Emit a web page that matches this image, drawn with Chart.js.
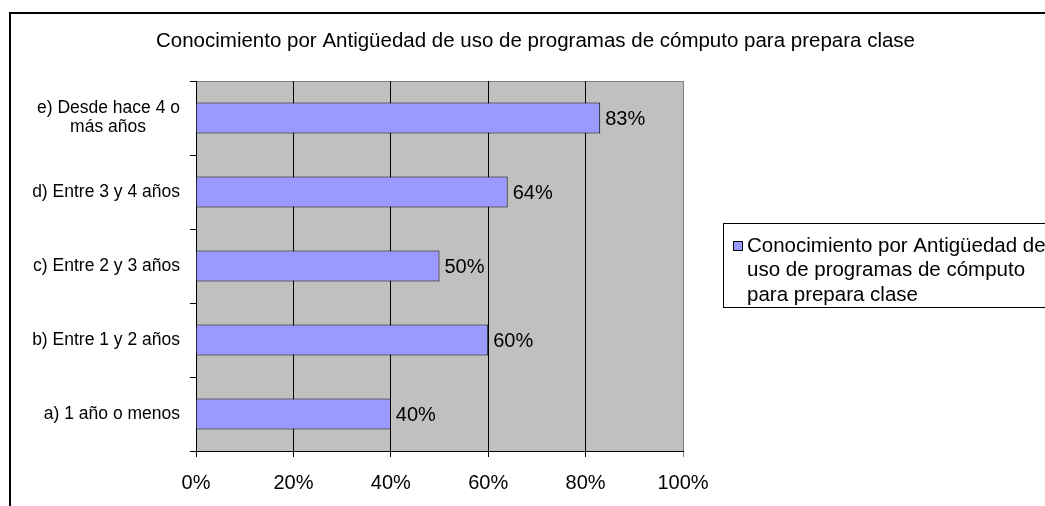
<!DOCTYPE html>
<html>
<head>
<meta charset="utf-8">
<script src="https://cdn.jsdelivr.net/npm/chart.js@4/dist/chart.umd.min.js"></script>
<style>
  html, body { margin: 0; padding: 0; background: #fff; }
  #wrap { width: 1045px; height: 506px; position: relative; }
</style>
</head>
<body>
<div id="wrap"><canvas id="knowledgeChart"></canvas></div>
<script>
const chartTitle = "Conocimiento por Antigüedad de uso de programas de cómputo para prepara clase";

let categoryLabels = [
    "a) 1 año o menos",
    "b) Entre 1 y 2 años",
    "c) Entre 2 y 3 años",
    "d) Entre 3 y 4 años",
    ["e) Desde hace 4 o", "más años"]
];

let percentValues = [40, 60, 50, 64, 83];

let legendLines = [
    "Conocimiento por Antigüedad de",
    "uso de programas de cómputo",
    "para prepara clase"
];

const barColor = "#9999FF";
const fontFamily = '"Liberation Sans", Arial, sans-serif';

Chart.defaults.font.family = fontFamily;
Chart.defaults.color = "#000";

// centre the lines of a multi-line label by padding the shorter ones with spaces
const measureCtx = document.createElement("canvas").getContext("2d");
measureCtx.font = "17.5px " + fontFamily;
function centreLines(label) {
    if (!Array.isArray(label)) return label;
    const widest = Math.max(...label.map(l => measureCtx.measureText(l).width));
    const space = measureCtx.measureText(" ").width;
    return label.map(l => {
        const pad = Math.round((widest - measureCtx.measureText(l).width) / 2 / space);
        return l + " ".repeat(pad);
    });
}

const framePlugin = {
    id: "frame",
    beforeDraw(chart) {
        const { ctx, chartArea: a } = chart;
        ctx.save();
        ctx.fillStyle = "#fff";
        ctx.fillRect(0, 0, chart.width, chart.height);
        ctx.strokeStyle = "#000";
        ctx.lineWidth = 2;
        ctx.strokeRect(10, 13, 1100, 600);
        ctx.fillStyle = "#C0C0C0";
        ctx.fillRect(a.left, a.top, a.right - a.left, a.bottom - a.top);
        ctx.strokeStyle = "#808080";
        ctx.lineWidth = 1;
        ctx.beginPath();
        ctx.moveTo(a.left, a.top + 0.5);
        ctx.lineTo(a.right, a.top + 0.5);
        ctx.stroke();
        ctx.fillStyle = "#000";
        ctx.font = "20.5px " + fontFamily;
        ctx.textAlign = "center";
        ctx.textBaseline = "middle";
        ctx.fillText(chartTitle, 535.5, 41);
        ctx.restore();
    },
    afterDatasetsDraw(chart) {
        const { ctx } = chart;
        const meta = chart.getDatasetMeta(0);
        ctx.save();
        ctx.fillStyle = "#000";
        ctx.font = "20px " + fontFamily;
        ctx.textAlign = "left";
        ctx.textBaseline = "middle";
        meta.data.forEach((bar, i) => {
            ctx.fillText(percentValues[i] + "%", bar.x + 5, bar.y + 1);
        });
        ctx.restore();
    },
    afterDraw(chart) {
        const { ctx } = chart;
        ctx.save();
        ctx.strokeStyle = "#000";
        ctx.lineWidth = 1;
        ctx.strokeRect(723.5, 223.5, 400, 84);
        ctx.fillStyle = barColor;
        ctx.fillRect(733, 241, 10, 10);
        ctx.strokeRect(733.5, 241.5, 9, 9);
        ctx.fillStyle = "#000";
        ctx.font = "20.5px " + fontFamily;
        ctx.textAlign = "left";
        ctx.textBaseline = "middle";
        legendLines.forEach((line, i) => {
            ctx.fillText(line, 747, 246 + i * 24.5);
        });
        ctx.restore();
    }
};

new Chart(document.getElementById("knowledgeChart"), {
    type: "bar",
    data: {
        labels: categoryLabels,
        datasets: [{
            label: legendLines.join(" "),
            data: percentValues,
            backgroundColor: barColor,
            borderColor: "#000",
            borderWidth: 1,
            barPercentage: 0.42,
            categoryPercentage: 1
        }]
    },
    options: {
        indexAxis: "y",
        responsive: true,
        maintainAspectRatio: false,
        animation: false,
        layout: {
            padding: { top: 81, right: 362, left: 0, bottom: 0 }
        },
        scales: {
            x: {
                min: 0,
                max: 100,
                ticks: {
                    stepSize: 20,
                    padding: 14,
                    font: { size: 20 },
                    callback: value => value + "%"
                },
                grid: {
                    color: ctx => (ctx.tick && ctx.tick.value === 100) ? "#808080" : "#000",
                    tickLength: 6,
                    lineWidth: 1
                },
                border: { color: "#000", width: 1 },
                afterFit: scale => { scale.height = 55; }
            },
            y: {
                reverse: true,
                ticks: {
                    padding: 10,
                    font: { size: 17.5, lineHeight: 1.07 },
                    callback: function(value) {
                        return centreLines(this.getLabelForValue(value));
                    }
                },
                grid: {
                    drawOnChartArea: false,
                    drawTicks: true,
                    tickLength: 6,
                    color: "#000",
                    offset: true
                },
                border: { color: "#000", width: 1 },
                afterFit: scale => { scale.width = 196; }
            }
        },
        plugins: {
            legend: { display: false },
            title: { display: false },
            tooltip: { enabled: false }
        }
    },
    plugins: [framePlugin]
});
</script>
</body>
</html>
